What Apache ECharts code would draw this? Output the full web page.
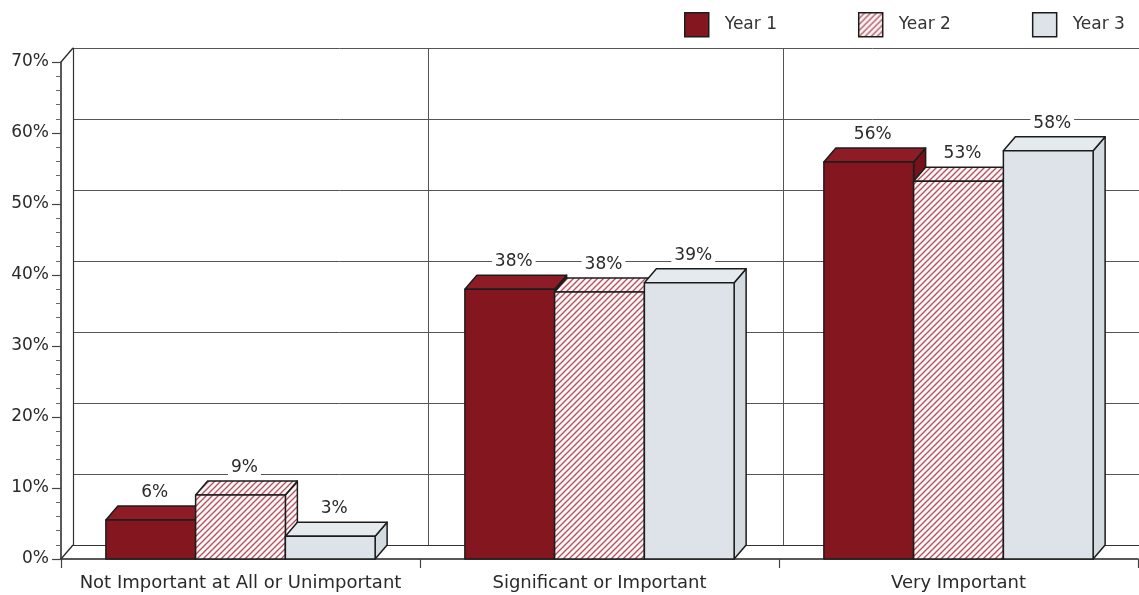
<!DOCTYPE html>
<html>
<head>
<meta charset="utf-8">
<script src="https://cdn.jsdelivr.net/npm/echarts@6/dist/echarts.min.js"></script>
<style>
html,body{margin:0;padding:0;background:#fff;}
#chart{width:1139px;height:595px;}
</style>
</head>
<body>
<div id="chart"></div>
<script>
// ---- data ----
const categories = ['Not Important at All or Unimportant', 'Significant or Important', 'Very Important'];
const seriesNames = ['Year 1', 'Year 2', 'Year 3'];
const year1 = [5.5, 38.0, 55.9];
const year2 = [9.0, 37.6, 53.2];
const year3 = [3.2, 38.9, 57.5];
const yTicks = { min: 0, max: 70, interval: 10 };

// ---- style ----
const FONT = 'DejaVu Sans';
const DX = 12, DY = 14; // depth offset (px)
const EDGE = '#1c1c1c';

function hatchCanvas() {
  const c = document.createElement('canvas');
  c.width = 6; c.height = 6;
  const g = c.getContext('2d');
  g.fillStyle = '#fef6f6';
  g.fillRect(0, 0, 6, 6);
  g.strokeStyle = '#b0505c';
  g.lineWidth = 1.3;
  g.beginPath();
  g.moveTo(-1, 7); g.lineTo(7, -1);
  g.moveTo(-1, 1); g.lineTo(1, -1);
  g.moveTo(5, 7); g.lineTo(7, 5);
  g.stroke();
  return c;
}
const hatch = { image: hatchCanvas(), repeat: 'repeat' };

const faceStyles = [
  { front: '#84161f', top: '#8d1c26', side: '#761219', legend: '#84161f' },
  { front: hatch, top: hatch, side: hatch, legend: hatch },
  { front: '#dde3e8', top: '#e5eaee', side: '#d3dae0', legend: '#dde3e8' }
];

function barRenderer(k) {
  return function (params, api) {
    const ci = api.value(0), v = api.value(1);
    const base = api.coord([ci, 0]);
    const top = api.coord([ci, v]);
    const band = api.size([1, 0])[0];
    const bw = band * 0.25;
    const x0 = base[0] + (k - 1) * bw - bw / 2;
    const x1 = x0 + bw;
    const y0 = base[1], y1 = top[1];
    const fs = faceStyles[k];
    const st = (fill) => ({ fill: fill, stroke: EDGE, lineWidth: 1.5, lineJoin: 'round' });
    return {
      type: 'group',
      children: [
        { type: 'polygon', shape: { points: [[x1, y1], [x1 + DX, y1 - DY], [x1 + DX, y0 - DY], [x1, y0]] }, style: st(fs.side) },
        { type: 'polygon', shape: { points: [[x0, y1], [x0 + DX, y1 - DY], [x1 + DX, y1 - DY], [x1, y1]] }, style: st(fs.top) },
        { type: 'polygon', shape: { points: [[x0, y1], [x1, y1], [x1, y0], [x0, y0]] }, style: st(fs.front) },
        {
          type: 'text', z2: 100,
          x: (x0 + x1) / 2 + 4, y: y1 - DY - 5,
          style: {
            text: Math.round(v) + '%', fill: '#2a2a2a', font: '17px "' + FONT + '"',
            align: 'center', verticalAlign: 'bottom',
            backgroundColor: '#fff', padding: [0, 3, 0, 3]
          }
        }
      ]
    };
  };
}

function frameRenderer(params, api) {
  const r = params.coordSys;
  const ls = { stroke: '#2a2a2a', lineWidth: 1.3 };
  return {
    type: 'group',
    children: [
      { type: 'line', shape: { x1: r.x, y1: r.y + r.height, x2: r.x + DX, y2: r.y + r.height - DY }, style: ls },
      { type: 'line', shape: { x1: r.x, y1: r.y, x2: r.x + DX, y2: r.y - DY }, style: ls }
    ]
  };
}

const allValues = [year1, year2, year3];
const series = allValues.map((vals, k) => ({
  name: seriesNames[k],
  type: 'custom',
  xAxisIndex: 0, yAxisIndex: 0,
  itemStyle: { color: faceStyles[k].legend, borderColor: EDGE, borderWidth: 1.5 },
  renderItem: barRenderer(k),
  data: vals.map((v, i) => [i, v]),
  z: 3
}));
series.unshift({
  name: 'frame', type: 'custom', xAxisIndex: 0, yAxisIndex: 0,
  renderItem: frameRenderer, data: [[0, 0]], silent: true, z: 1
});

const chart = echarts.init(document.getElementById('chart'), null, { renderer: 'canvas' });
chart.setOption({
  animation: false,
  backgroundColor: '#fff',
  textStyle: { fontFamily: FONT },
  legend: {
    left: 679, top: 7,
    itemWidth: 24, itemHeight: 24, itemGap: 81,
    icon: 'rect',
    textStyle: { fontSize: 17, color: '#333', fontFamily: FONT, padding: [0, 0, 0, 11] },
    data: seriesNames.map((n, k) => ({
      name: n,
      itemStyle: { color: faceStyles[k].legend, borderColor: EDGE, borderWidth: 1.5 }
    }))
  },
  grid: [
    { left: 61, top: 62, width: 1077, height: 497 },
    { left: 61 + DX, top: 62 - DY, width: 1077, height: 497 }
  ],
  xAxis: [
    {
      type: 'category', gridIndex: 0, data: categories, boundaryGap: true,
      axisLine: { show: true, lineStyle: { color: '#222', width: 1.5 } },
      axisTick: { show: true, length: 9, interval: 0, lineStyle: { color: '#444', width: 1.2 } },
      axisLabel: { fontSize: 18, color: '#2a2a2a', fontFamily: FONT, margin: 15, interval: 0 },
      splitLine: { show: false }
    },
    {
      type: 'category', gridIndex: 1, data: categories, boundaryGap: true,
      axisLine: { show: true, lineStyle: { color: '#333', width: 1.2 } },
      axisTick: { show: false }, axisLabel: { show: false },
      splitLine: { show: true, interval: 0, lineStyle: { color: '#555', width: 1 } }
    }
  ],
  yAxis: [
    {
      type: 'value', gridIndex: 0, min: yTicks.min, max: yTicks.max, interval: yTicks.interval,
      axisLine: { show: true, lineStyle: { color: '#222', width: 1.5 } },
      axisTick: { show: true, length: 9, lineStyle: { color: '#444', width: 1.2 } },
      minorTick: { show: true, splitNumber: 5, length: 5, lineStyle: { color: '#666', width: 1 } },
      axisLabel: { formatter: '{value}%', fontSize: 17, color: '#2a2a2a', fontFamily: FONT, margin: 12 },
      splitLine: { show: false }
    },
    {
      type: 'value', gridIndex: 1, min: yTicks.min, max: yTicks.max, interval: yTicks.interval,
      axisLine: { show: true, lineStyle: { color: '#333', width: 1.2 } },
      axisTick: { show: false }, axisLabel: { show: false },
      splitLine: { show: true, lineStyle: { color: '#555', width: 1 } }
    }
  ],
  series: series
});
</script>
</body>
</html>
